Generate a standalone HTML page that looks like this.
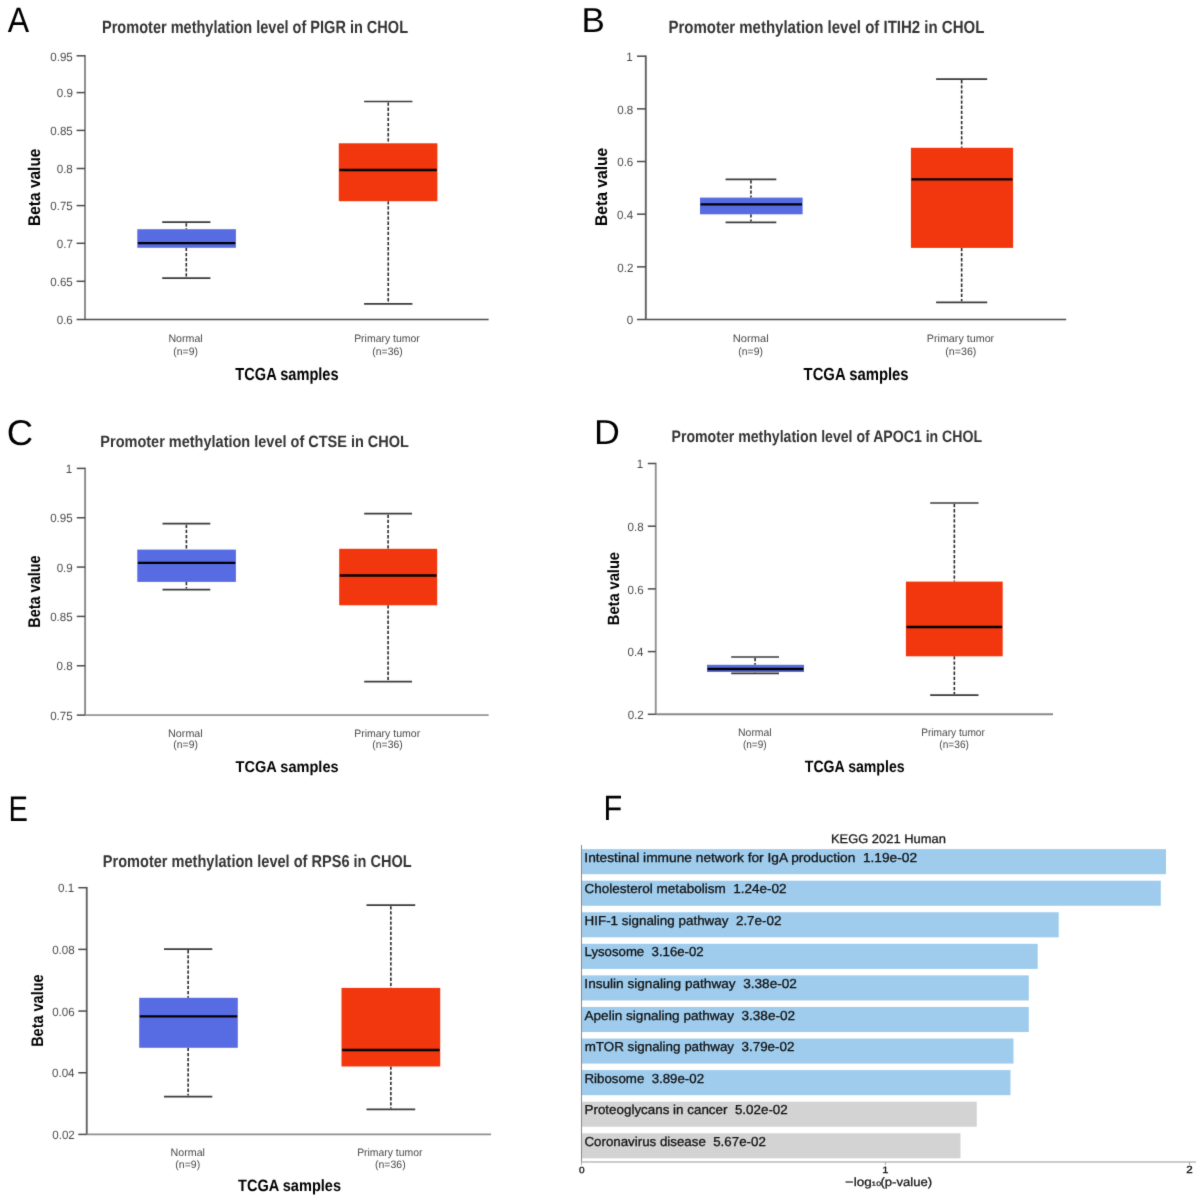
<!DOCTYPE html>
<html><head><meta charset="utf-8"><style>
html,body{margin:0;padding:0;background:#fff;width:1200px;height:1200px;overflow:hidden}
svg{display:block}
text{font-family:"Liberation Sans",sans-serif;text-rendering:geometricPrecision}
</style></head><body>
<svg width="1200" height="1200" viewBox="0 0 1200 1200">
<defs><filter id="soft" x="0" y="0" width="1200" height="1200" filterUnits="userSpaceOnUse" color-interpolation-filters="sRGB"><feConvolveMatrix order="3" kernelMatrix="0.0114 0.0841 0.0114 0.0841 0.6178 0.0841 0.0114 0.0841 0.0114" edgeMode="duplicate"/></filter></defs>
<g filter="url(#soft)">
<rect width="1200" height="1200" fill="#fff"/>
<text x="7.64" y="32.00" font-size="35.32" fill="#000" textLength="21.43" lengthAdjust="spacingAndGlyphs">A</text>
<text x="102.03" y="33.00" font-size="17.73" font-weight="bold" fill="#333" textLength="306.02" lengthAdjust="spacingAndGlyphs">Promoter methylation level of PIGR in CHOL</text>
<line x1="85" y1="55.0" x2="85" y2="319.5" stroke="#888" stroke-width="1.9"/>
<line x1="85" y1="319.5" x2="488.6" y2="319.5" stroke="#4b4b4b" stroke-width="1.3"/>
<line x1="76.6" y1="55.80" x2="85" y2="55.80" stroke="#4a4a4a" stroke-width="1.5"/>
<text x="50.25" y="60.53" font-size="12.00" fill="#4a4a4a" textLength="22.54" lengthAdjust="spacingAndGlyphs">0.95</text>
<line x1="76.6" y1="92.60" x2="85" y2="92.60" stroke="#4a4a4a" stroke-width="1.5"/>
<text x="56.75" y="97.33" font-size="12.00" fill="#4a4a4a" textLength="16.10" lengthAdjust="spacingAndGlyphs">0.9</text>
<line x1="76.6" y1="130.40" x2="85" y2="130.40" stroke="#4a4a4a" stroke-width="1.5"/>
<text x="50.25" y="135.13" font-size="12.00" fill="#4a4a4a" textLength="22.54" lengthAdjust="spacingAndGlyphs">0.85</text>
<line x1="76.6" y1="168.50" x2="85" y2="168.50" stroke="#4a4a4a" stroke-width="1.5"/>
<text x="56.70" y="173.23" font-size="12.00" fill="#4a4a4a" textLength="16.10" lengthAdjust="spacingAndGlyphs">0.8</text>
<line x1="76.6" y1="205.60" x2="85" y2="205.60" stroke="#4a4a4a" stroke-width="1.5"/>
<text x="50.25" y="210.33" font-size="12.00" fill="#4a4a4a" textLength="22.54" lengthAdjust="spacingAndGlyphs">0.75</text>
<line x1="76.6" y1="243.30" x2="85" y2="243.30" stroke="#4a4a4a" stroke-width="1.5"/>
<text x="56.78" y="248.03" font-size="12.00" fill="#4a4a4a" textLength="16.10" lengthAdjust="spacingAndGlyphs">0.7</text>
<line x1="76.6" y1="281.30" x2="85" y2="281.30" stroke="#4a4a4a" stroke-width="1.5"/>
<text x="50.25" y="286.03" font-size="12.00" fill="#4a4a4a" textLength="22.54" lengthAdjust="spacingAndGlyphs">0.65</text>
<line x1="76.6" y1="319.50" x2="85" y2="319.50" stroke="#4a4a4a" stroke-width="1.5"/>
<text x="56.71" y="324.23" font-size="12.00" fill="#4a4a4a" textLength="16.10" lengthAdjust="spacingAndGlyphs">0.6</text>
<g transform="translate(40.25,224.90) rotate(-90)">
<text x="-1.04" y="0.00" font-size="16.93" font-weight="bold" fill="#000" textLength="77.37" lengthAdjust="spacingAndGlyphs">Beta value</text>
</g>
<line x1="186.30" y1="223.20" x2="186.30" y2="229.20" stroke="#2a2a2a" stroke-width="1.6" stroke-dasharray="3.3,1.8"/>
<line x1="186.30" y1="247.80" x2="186.30" y2="277.20" stroke="#2a2a2a" stroke-width="1.6" stroke-dasharray="3.3,1.8"/>
<line x1="162.20" y1="222.20" x2="210.40" y2="222.20" stroke="#3a3a3a" stroke-width="1.7"/>
<line x1="162.20" y1="278.20" x2="210.40" y2="278.20" stroke="#3a3a3a" stroke-width="1.7"/>
<rect x="137.30" y="229.20" width="98.60" height="18.60" fill="#576be2"/>
<line x1="137.90" y1="243.20" x2="235.30" y2="243.20" stroke="#000" stroke-width="2.3"/>
<line x1="388.25" y1="102.50" x2="388.25" y2="143.30" stroke="#2a2a2a" stroke-width="1.6" stroke-dasharray="3.3,1.8"/>
<line x1="388.25" y1="201.20" x2="388.25" y2="302.80" stroke="#2a2a2a" stroke-width="1.6" stroke-dasharray="3.3,1.8"/>
<line x1="364.10" y1="101.50" x2="412.40" y2="101.50" stroke="#3a3a3a" stroke-width="1.7"/>
<line x1="364.10" y1="303.80" x2="412.40" y2="303.80" stroke="#3a3a3a" stroke-width="1.7"/>
<rect x="338.80" y="143.30" width="98.60" height="57.90" fill="#f2360d"/>
<line x1="339.40" y1="170.00" x2="436.80" y2="170.00" stroke="#000" stroke-width="2.3"/>
<text x="168.38" y="341.70" font-size="10.80" fill="#484848" textLength="34.33" lengthAdjust="spacingAndGlyphs">Normal</text>
<text x="173.36" y="354.70" font-size="10.80" fill="#484848" textLength="24.54" lengthAdjust="spacingAndGlyphs">(n=9)</text>
<text x="354.14" y="341.70" font-size="10.80" fill="#484848" textLength="65.74" lengthAdjust="spacingAndGlyphs">Primary tumor</text>
<text x="372.36" y="354.70" font-size="10.80" fill="#484848" textLength="30.29" lengthAdjust="spacingAndGlyphs">(n=36)</text>
<text x="235.34" y="380.00" font-size="17.44" font-weight="bold" fill="#000" textLength="103.26" lengthAdjust="spacingAndGlyphs">TCGA samples</text>
<text x="581.53" y="31.90" font-size="34.59" fill="#000" textLength="23.32" lengthAdjust="spacingAndGlyphs">B</text>
<text x="668.39" y="33.00" font-size="17.73" font-weight="bold" fill="#333" textLength="315.97" lengthAdjust="spacingAndGlyphs">Promoter methylation level of ITIH2 in CHOL</text>
<line x1="645.8" y1="55.400000000000006" x2="645.8" y2="319.5" stroke="#606060" stroke-width="1.9"/>
<line x1="645.8" y1="319.5" x2="1066.2" y2="319.5" stroke="#4b4b4b" stroke-width="1.3"/>
<line x1="637.0" y1="56.20" x2="645.8" y2="56.20" stroke="#4a4a4a" stroke-width="1.5"/>
<text x="626.33" y="60.93" font-size="12.00" fill="#4a4a4a" textLength="6.44" lengthAdjust="spacingAndGlyphs">1</text>
<line x1="637.0" y1="108.86" x2="645.8" y2="108.86" stroke="#4a4a4a" stroke-width="1.5"/>
<text x="617.20" y="113.59" font-size="12.00" fill="#4a4a4a" textLength="16.10" lengthAdjust="spacingAndGlyphs">0.8</text>
<line x1="637.0" y1="161.52" x2="645.8" y2="161.52" stroke="#4a4a4a" stroke-width="1.5"/>
<text x="617.21" y="166.25" font-size="12.00" fill="#4a4a4a" textLength="16.10" lengthAdjust="spacingAndGlyphs">0.6</text>
<line x1="637.0" y1="214.18" x2="645.8" y2="214.18" stroke="#4a4a4a" stroke-width="1.5"/>
<text x="617.04" y="218.91" font-size="12.00" fill="#4a4a4a" textLength="16.10" lengthAdjust="spacingAndGlyphs">0.4</text>
<line x1="637.0" y1="266.84" x2="645.8" y2="266.84" stroke="#4a4a4a" stroke-width="1.5"/>
<text x="617.28" y="271.57" font-size="12.00" fill="#4a4a4a" textLength="16.10" lengthAdjust="spacingAndGlyphs">0.2</text>
<line x1="637.0" y1="319.50" x2="645.8" y2="319.50" stroke="#4a4a4a" stroke-width="1.5"/>
<text x="626.81" y="324.23" font-size="12.00" fill="#4a4a4a" textLength="6.44" lengthAdjust="spacingAndGlyphs">0</text>
<g transform="translate(606.70,225.00) rotate(-90)">
<text x="-1.05" y="0.00" font-size="17.01" font-weight="bold" fill="#000" textLength="78.29" lengthAdjust="spacingAndGlyphs">Beta value</text>
</g>
<line x1="750.95" y1="180.30" x2="750.95" y2="197.60" stroke="#2a2a2a" stroke-width="1.6" stroke-dasharray="3.3,1.8"/>
<line x1="750.95" y1="214.30" x2="750.95" y2="221.40" stroke="#2a2a2a" stroke-width="1.6" stroke-dasharray="3.3,1.8"/>
<line x1="725.60" y1="179.30" x2="776.30" y2="179.30" stroke="#3a3a3a" stroke-width="1.7"/>
<line x1="725.60" y1="222.40" x2="776.30" y2="222.40" stroke="#3a3a3a" stroke-width="1.7"/>
<rect x="700.00" y="197.60" width="102.60" height="16.70" fill="#576be2"/>
<line x1="700.60" y1="204.30" x2="802.00" y2="204.30" stroke="#000" stroke-width="2.3"/>
<line x1="961.65" y1="80.10" x2="961.65" y2="147.80" stroke="#2a2a2a" stroke-width="1.6" stroke-dasharray="3.3,1.8"/>
<line x1="961.65" y1="247.90" x2="961.65" y2="301.30" stroke="#2a2a2a" stroke-width="1.6" stroke-dasharray="3.3,1.8"/>
<line x1="936.10" y1="79.10" x2="987.20" y2="79.10" stroke="#3a3a3a" stroke-width="1.7"/>
<line x1="936.10" y1="302.30" x2="987.20" y2="302.30" stroke="#3a3a3a" stroke-width="1.7"/>
<rect x="910.90" y="147.80" width="102.20" height="100.10" fill="#f2360d"/>
<line x1="911.50" y1="179.30" x2="1012.50" y2="179.30" stroke="#000" stroke-width="2.3"/>
<text x="732.84" y="341.75" font-size="10.80" fill="#484848" textLength="35.91" lengthAdjust="spacingAndGlyphs">Normal</text>
<text x="738.36" y="354.60" font-size="10.80" fill="#484848" textLength="24.54" lengthAdjust="spacingAndGlyphs">(n=9)</text>
<text x="926.82" y="341.75" font-size="10.80" fill="#484848" textLength="67.37" lengthAdjust="spacingAndGlyphs">Primary tumor</text>
<text x="945.34" y="354.60" font-size="10.80" fill="#484848" textLength="31.02" lengthAdjust="spacingAndGlyphs">(n=36)</text>
<text x="803.59" y="380.00" font-size="17.44" font-weight="bold" fill="#000" textLength="105.02" lengthAdjust="spacingAndGlyphs">TCGA samples</text>
<text x="6.88" y="445.30" font-size="35.90" fill="#000" textLength="26.41" lengthAdjust="spacingAndGlyphs">C</text>
<text x="100.33" y="447.00" font-size="16.35" font-weight="bold" fill="#333" textLength="308.62" lengthAdjust="spacingAndGlyphs">Promoter methylation level of CTSE in CHOL</text>
<line x1="85.1" y1="467.59999999999997" x2="85.1" y2="715.1" stroke="#888" stroke-width="1.9"/>
<line x1="85.1" y1="715.1" x2="488.6" y2="715.1" stroke="#959595" stroke-width="1.9"/>
<line x1="76.8" y1="468.40" x2="85.1" y2="468.40" stroke="#4a4a4a" stroke-width="1.5"/>
<text x="65.73" y="473.13" font-size="12.00" fill="#4a4a4a" textLength="6.44" lengthAdjust="spacingAndGlyphs">1</text>
<line x1="76.8" y1="517.74" x2="85.1" y2="517.74" stroke="#4a4a4a" stroke-width="1.5"/>
<text x="50.15" y="522.47" font-size="12.00" fill="#4a4a4a" textLength="22.54" lengthAdjust="spacingAndGlyphs">0.95</text>
<line x1="76.8" y1="567.08" x2="85.1" y2="567.08" stroke="#4a4a4a" stroke-width="1.5"/>
<text x="56.65" y="571.81" font-size="12.00" fill="#4a4a4a" textLength="16.10" lengthAdjust="spacingAndGlyphs">0.9</text>
<line x1="76.8" y1="616.42" x2="85.1" y2="616.42" stroke="#4a4a4a" stroke-width="1.5"/>
<text x="50.15" y="621.15" font-size="12.00" fill="#4a4a4a" textLength="22.54" lengthAdjust="spacingAndGlyphs">0.85</text>
<line x1="76.8" y1="665.76" x2="85.1" y2="665.76" stroke="#4a4a4a" stroke-width="1.5"/>
<text x="56.60" y="670.49" font-size="12.00" fill="#4a4a4a" textLength="16.10" lengthAdjust="spacingAndGlyphs">0.8</text>
<line x1="76.8" y1="715.10" x2="85.1" y2="715.10" stroke="#4a4a4a" stroke-width="1.5"/>
<text x="50.15" y="719.83" font-size="12.00" fill="#4a4a4a" textLength="22.54" lengthAdjust="spacingAndGlyphs">0.75</text>
<g transform="translate(40.25,626.80) rotate(-90)">
<text x="-0.97" y="0.00" font-size="16.93" font-weight="bold" fill="#000" textLength="72.37" lengthAdjust="spacingAndGlyphs">Beta value</text>
</g>
<line x1="186.40" y1="524.70" x2="186.40" y2="549.60" stroke="#2a2a2a" stroke-width="1.6" stroke-dasharray="3.3,1.8"/>
<line x1="186.40" y1="581.90" x2="186.40" y2="588.60" stroke="#2a2a2a" stroke-width="1.6" stroke-dasharray="3.3,1.8"/>
<line x1="162.50" y1="523.70" x2="210.30" y2="523.70" stroke="#3a3a3a" stroke-width="1.7"/>
<line x1="162.50" y1="589.60" x2="210.30" y2="589.60" stroke="#3a3a3a" stroke-width="1.7"/>
<rect x="137.30" y="549.60" width="98.60" height="32.30" fill="#576be2"/>
<line x1="137.90" y1="562.80" x2="235.30" y2="562.80" stroke="#000" stroke-width="2.3"/>
<line x1="388.10" y1="514.70" x2="388.10" y2="548.80" stroke="#2a2a2a" stroke-width="1.6" stroke-dasharray="3.3,1.8"/>
<line x1="388.10" y1="605.30" x2="388.10" y2="680.70" stroke="#2a2a2a" stroke-width="1.6" stroke-dasharray="3.3,1.8"/>
<line x1="364.20" y1="513.70" x2="412.00" y2="513.70" stroke="#3a3a3a" stroke-width="1.7"/>
<line x1="364.20" y1="681.70" x2="412.00" y2="681.70" stroke="#3a3a3a" stroke-width="1.7"/>
<rect x="339.20" y="548.80" width="98.00" height="56.50" fill="#f2360d"/>
<line x1="339.80" y1="575.50" x2="436.60" y2="575.50" stroke="#000" stroke-width="2.3"/>
<text x="168.12" y="736.60" font-size="10.80" fill="#484848" textLength="34.60" lengthAdjust="spacingAndGlyphs">Normal</text>
<text x="173.36" y="748.40" font-size="10.80" fill="#484848" textLength="24.54" lengthAdjust="spacingAndGlyphs">(n=9)</text>
<text x="354.14" y="736.60" font-size="10.80" fill="#484848" textLength="66.05" lengthAdjust="spacingAndGlyphs">Primary tumor</text>
<text x="372.36" y="748.40" font-size="10.80" fill="#484848" textLength="30.29" lengthAdjust="spacingAndGlyphs">(n=36)</text>
<text x="235.59" y="771.75" font-size="15.63" font-weight="bold" fill="#000" textLength="103.01" lengthAdjust="spacingAndGlyphs">TCGA samples</text>
<text x="593.96" y="444.40" font-size="34.59" fill="#000" textLength="25.86" lengthAdjust="spacingAndGlyphs">D</text>
<text x="671.56" y="441.80" font-size="16.57" font-weight="bold" fill="#333" textLength="310.48" lengthAdjust="spacingAndGlyphs">Promoter methylation level of APOC1 in CHOL</text>
<line x1="655.75" y1="462.7" x2="655.75" y2="714.3" stroke="#909090" stroke-width="1.9"/>
<line x1="655.75" y1="714.3" x2="1053" y2="714.3" stroke="#888" stroke-width="1.9"/>
<line x1="647.8" y1="463.50" x2="655.75" y2="463.50" stroke="#4a4a4a" stroke-width="1.5"/>
<text x="636.73" y="468.23" font-size="12.00" fill="#4a4a4a" textLength="6.44" lengthAdjust="spacingAndGlyphs">1</text>
<line x1="647.8" y1="526.20" x2="655.75" y2="526.20" stroke="#4a4a4a" stroke-width="1.5"/>
<text x="627.60" y="530.93" font-size="12.00" fill="#4a4a4a" textLength="16.10" lengthAdjust="spacingAndGlyphs">0.8</text>
<line x1="647.8" y1="588.90" x2="655.75" y2="588.90" stroke="#4a4a4a" stroke-width="1.5"/>
<text x="627.61" y="593.63" font-size="12.00" fill="#4a4a4a" textLength="16.10" lengthAdjust="spacingAndGlyphs">0.6</text>
<line x1="647.8" y1="651.60" x2="655.75" y2="651.60" stroke="#4a4a4a" stroke-width="1.5"/>
<text x="627.44" y="656.33" font-size="12.00" fill="#4a4a4a" textLength="16.10" lengthAdjust="spacingAndGlyphs">0.4</text>
<line x1="647.8" y1="714.30" x2="655.75" y2="714.30" stroke="#4a4a4a" stroke-width="1.5"/>
<text x="627.68" y="719.03" font-size="12.00" fill="#4a4a4a" textLength="16.10" lengthAdjust="spacingAndGlyphs">0.2</text>
<g transform="translate(619.20,624.20) rotate(-90)">
<text x="-0.98" y="0.00" font-size="16.28" font-weight="bold" fill="#000" textLength="73.18" lengthAdjust="spacingAndGlyphs">Beta value</text>
</g>
<line x1="755.10" y1="658.00" x2="755.10" y2="664.80" stroke="#2a2a2a" stroke-width="1.6" stroke-dasharray="3.3,1.8"/>
<line x1="755.10" y1="672.00" x2="755.10" y2="672.30" stroke="#2a2a2a" stroke-width="1.6" stroke-dasharray="3.3,1.8"/>
<line x1="731.20" y1="657.00" x2="779.00" y2="657.00" stroke="#3a3a3a" stroke-width="1.7"/>
<line x1="731.20" y1="673.30" x2="779.00" y2="673.30" stroke="#3a3a3a" stroke-width="1.7"/>
<rect x="707.00" y="664.80" width="97.00" height="7.20" fill="#576be2"/>
<line x1="707.60" y1="669.00" x2="803.40" y2="669.00" stroke="#000" stroke-width="2.3"/>
<line x1="954.35" y1="504.00" x2="954.35" y2="581.60" stroke="#2a2a2a" stroke-width="1.6" stroke-dasharray="3.3,1.8"/>
<line x1="954.35" y1="656.30" x2="954.35" y2="694.10" stroke="#2a2a2a" stroke-width="1.6" stroke-dasharray="3.3,1.8"/>
<line x1="930.20" y1="503.00" x2="978.50" y2="503.00" stroke="#3a3a3a" stroke-width="1.7"/>
<line x1="930.20" y1="695.10" x2="978.50" y2="695.10" stroke="#3a3a3a" stroke-width="1.7"/>
<rect x="905.90" y="581.60" width="96.80" height="74.70" fill="#f2360d"/>
<line x1="906.50" y1="627.00" x2="1002.10" y2="627.00" stroke="#000" stroke-width="2.3"/>
<text x="738.04" y="735.75" font-size="10.80" fill="#484848" textLength="33.65" lengthAdjust="spacingAndGlyphs">Normal</text>
<text x="742.88" y="747.50" font-size="10.80" fill="#484848" textLength="23.75" lengthAdjust="spacingAndGlyphs">(n=9)</text>
<text x="921.17" y="735.75" font-size="10.80" fill="#484848" textLength="63.71" lengthAdjust="spacingAndGlyphs">Primary tumor</text>
<text x="939.37" y="747.50" font-size="10.80" fill="#484848" textLength="29.56" lengthAdjust="spacingAndGlyphs">(n=36)</text>
<text x="804.84" y="771.50" font-size="16.35" font-weight="bold" fill="#000" textLength="99.74" lengthAdjust="spacingAndGlyphs">TCGA samples</text>
<text x="8.61" y="820.70" font-size="35.61" fill="#000" textLength="19.44" lengthAdjust="spacingAndGlyphs">E</text>
<text x="102.82" y="866.60" font-size="17.15" font-weight="bold" fill="#333" textLength="308.93" lengthAdjust="spacingAndGlyphs">Promoter methylation level of RPS6 in CHOL</text>
<line x1="86.75" y1="886.9000000000001" x2="86.75" y2="1134.4" stroke="#626262" stroke-width="1.9"/>
<line x1="86.75" y1="1134.4" x2="491" y2="1134.4" stroke="#8e8e8e" stroke-width="1.9"/>
<line x1="78.3" y1="887.70" x2="86.75" y2="887.70" stroke="#4a4a4a" stroke-width="1.5"/>
<text x="58.07" y="892.43" font-size="12.00" fill="#4a4a4a" textLength="16.10" lengthAdjust="spacingAndGlyphs">0.1</text>
<line x1="78.3" y1="949.38" x2="86.75" y2="949.38" stroke="#4a4a4a" stroke-width="1.5"/>
<text x="52.16" y="954.10" font-size="12.00" fill="#4a4a4a" textLength="22.54" lengthAdjust="spacingAndGlyphs">0.08</text>
<line x1="78.3" y1="1011.05" x2="86.75" y2="1011.05" stroke="#4a4a4a" stroke-width="1.5"/>
<text x="52.17" y="1015.78" font-size="12.00" fill="#4a4a4a" textLength="22.54" lengthAdjust="spacingAndGlyphs">0.06</text>
<line x1="78.3" y1="1072.73" x2="86.75" y2="1072.73" stroke="#4a4a4a" stroke-width="1.5"/>
<text x="52.00" y="1077.45" font-size="12.00" fill="#4a4a4a" textLength="22.54" lengthAdjust="spacingAndGlyphs">0.04</text>
<line x1="78.3" y1="1134.40" x2="86.75" y2="1134.40" stroke="#4a4a4a" stroke-width="1.5"/>
<text x="52.24" y="1139.13" font-size="12.00" fill="#4a4a4a" textLength="22.54" lengthAdjust="spacingAndGlyphs">0.02</text>
<g transform="translate(42.90,1045.90) rotate(-90)">
<text x="-0.97" y="0.00" font-size="16.72" font-weight="bold" fill="#000" textLength="72.47" lengthAdjust="spacingAndGlyphs">Beta value</text>
</g>
<line x1="188.15" y1="950.10" x2="188.15" y2="997.80" stroke="#2a2a2a" stroke-width="1.6" stroke-dasharray="3.3,1.8"/>
<line x1="188.15" y1="1047.80" x2="188.15" y2="1095.60" stroke="#2a2a2a" stroke-width="1.6" stroke-dasharray="3.3,1.8"/>
<line x1="164.00" y1="949.10" x2="212.30" y2="949.10" stroke="#3a3a3a" stroke-width="1.7"/>
<line x1="164.00" y1="1096.60" x2="212.30" y2="1096.60" stroke="#3a3a3a" stroke-width="1.7"/>
<rect x="139.20" y="997.80" width="98.60" height="50.00" fill="#576be2"/>
<line x1="139.80" y1="1016.30" x2="237.20" y2="1016.30" stroke="#000" stroke-width="2.3"/>
<line x1="390.85" y1="906.20" x2="390.85" y2="987.90" stroke="#2a2a2a" stroke-width="1.6" stroke-dasharray="3.3,1.8"/>
<line x1="390.85" y1="1066.50" x2="390.85" y2="1108.40" stroke="#2a2a2a" stroke-width="1.6" stroke-dasharray="3.3,1.8"/>
<line x1="366.50" y1="905.20" x2="415.20" y2="905.20" stroke="#3a3a3a" stroke-width="1.7"/>
<line x1="366.50" y1="1109.40" x2="415.20" y2="1109.40" stroke="#3a3a3a" stroke-width="1.7"/>
<rect x="341.50" y="987.90" width="98.70" height="78.60" fill="#f2360d"/>
<line x1="342.10" y1="1050.00" x2="439.60" y2="1050.00" stroke="#000" stroke-width="2.3"/>
<text x="170.52" y="1155.75" font-size="10.80" fill="#484848" textLength="34.44" lengthAdjust="spacingAndGlyphs">Normal</text>
<text x="175.35" y="1167.50" font-size="10.80" fill="#484848" textLength="24.81" lengthAdjust="spacingAndGlyphs">(n=9)</text>
<text x="357.15" y="1155.75" font-size="10.80" fill="#484848" textLength="65.33" lengthAdjust="spacingAndGlyphs">Primary tumor</text>
<text x="375.05" y="1167.50" font-size="10.80" fill="#484848" textLength="30.61" lengthAdjust="spacingAndGlyphs">(n=36)</text>
<text x="238.09" y="1190.75" font-size="16.35" font-weight="bold" fill="#000" textLength="102.91" lengthAdjust="spacingAndGlyphs">TCGA samples</text>
<text x="603.48" y="819.80" font-size="35.32" fill="#000" textLength="18.74" lengthAdjust="spacingAndGlyphs">F</text>
<text x="830.94" y="842.60" font-size="12.50" fill="#111" textLength="114.91" lengthAdjust="spacingAndGlyphs" stroke="#111" stroke-width="0.25">KEGG 2021 Human</text>
<rect x="582.00" y="849.10" width="584.00" height="25.1" fill="#9fcced"/>
<rect x="582.00" y="880.67" width="578.80" height="25.1" fill="#9fcced"/>
<rect x="582.00" y="912.24" width="476.70" height="25.1" fill="#9fcced"/>
<rect x="582.00" y="943.81" width="455.70" height="25.1" fill="#9fcced"/>
<rect x="582.00" y="975.38" width="446.80" height="25.1" fill="#9fcced"/>
<rect x="582.00" y="1006.95" width="446.80" height="25.1" fill="#9fcced"/>
<rect x="582.00" y="1038.52" width="431.50" height="25.1" fill="#9fcced"/>
<rect x="582.00" y="1070.09" width="428.50" height="25.1" fill="#9fcced"/>
<rect x="582.00" y="1101.66" width="394.75" height="25.1" fill="#d3d3d3"/>
<rect x="582.00" y="1133.23" width="378.50" height="25.1" fill="#d3d3d3"/>
<text x="584.36" y="861.75" font-size="13.00" fill="#111" textLength="332.75" lengthAdjust="spacingAndGlyphs" xml:space="preserve" stroke="#111" stroke-width="0.3">Intestinal immune network for IgA production  1.19e-02</text>
<text x="584.43" y="893.32" font-size="13.00" fill="#111" textLength="202.22" lengthAdjust="spacingAndGlyphs" xml:space="preserve" stroke="#111" stroke-width="0.3">Cholesterol metabolism  1.24e-02</text>
<text x="584.52" y="924.89" font-size="13.00" fill="#111" textLength="196.94" lengthAdjust="spacingAndGlyphs" xml:space="preserve" stroke="#111" stroke-width="0.3">HIF-1 signaling pathway  2.7e-02</text>
<text x="584.54" y="956.46" font-size="13.00" fill="#111" textLength="119.15" lengthAdjust="spacingAndGlyphs" xml:space="preserve" stroke="#111" stroke-width="0.3">Lysosome  3.16e-02</text>
<text x="584.37" y="988.03" font-size="13.00" fill="#111" textLength="212.51" lengthAdjust="spacingAndGlyphs" xml:space="preserve" stroke="#111" stroke-width="0.3">Insulin signaling pathway  3.38e-02</text>
<text x="584.52" y="1019.60" font-size="13.00" fill="#111" textLength="210.57" lengthAdjust="spacingAndGlyphs" xml:space="preserve" stroke="#111" stroke-width="0.3">Apelin signaling pathway  3.38e-02</text>
<text x="584.65" y="1051.17" font-size="13.00" fill="#111" textLength="209.76" lengthAdjust="spacingAndGlyphs" xml:space="preserve" stroke="#111" stroke-width="0.3">mTOR signaling pathway  3.79e-02</text>
<text x="584.53" y="1082.74" font-size="13.00" fill="#111" textLength="119.51" lengthAdjust="spacingAndGlyphs" xml:space="preserve" stroke="#111" stroke-width="0.3">Ribosome  3.89e-02</text>
<text x="584.52" y="1114.31" font-size="13.00" fill="#111" textLength="203.24" lengthAdjust="spacingAndGlyphs" xml:space="preserve" stroke="#111" stroke-width="0.3">Proteoglycans in cancer  5.02e-02</text>
<text x="584.44" y="1145.88" font-size="13.00" fill="#111" textLength="181.36" lengthAdjust="spacingAndGlyphs" xml:space="preserve" stroke="#111" stroke-width="0.3">Coronavirus disease  5.67e-02</text>
<line x1="581.5" y1="845" x2="581.5" y2="1162" stroke="#888" stroke-width="1"/>
<line x1="581.5" y1="1162" x2="1196" y2="1162" stroke="#bbb" stroke-width="1.5"/>
<line x1="581.50" y1="1162" x2="581.50" y2="1165" stroke="#999" stroke-width="0.8"/>
<text x="579.01" y="1172.70" font-size="8.86" fill="#111" textLength="5.58" lengthAdjust="spacingAndGlyphs" stroke="#111" stroke-width="0.3">0</text>
<line x1="885.50" y1="1162" x2="885.50" y2="1165" stroke="#999" stroke-width="0.8"/>
<text x="882.35" y="1172.80" font-size="9.14" fill="#111" textLength="6.19" lengthAdjust="spacingAndGlyphs" stroke="#111" stroke-width="0.3">1</text>
<line x1="1189.50" y1="1162" x2="1189.50" y2="1165" stroke="#999" stroke-width="0.8"/>
<text x="1186.32" y="1172.80" font-size="10.29" fill="#111" textLength="6.46" lengthAdjust="spacingAndGlyphs" stroke="#111" stroke-width="0.3">2</text>
<text x="845.08" y="1185.75" font-size="12.00" fill="#111" textLength="8.53" lengthAdjust="spacingAndGlyphs" stroke="#111" stroke-width="0.25">−</text>
<text x="853.70" y="1185.75" font-size="12.00" fill="#111" textLength="17.97" lengthAdjust="spacingAndGlyphs" stroke="#111" stroke-width="0.25">log</text>
<text x="871.33" y="1185.75" font-size="6.40" fill="#111" textLength="9.82" lengthAdjust="spacingAndGlyphs" stroke="#111" stroke-width="0.2">10</text>
<text x="880.44" y="1185.75" font-size="12.00" fill="#111" textLength="51.62" lengthAdjust="spacingAndGlyphs" stroke="#111" stroke-width="0.25">(p-value)</text>
</g>
</svg>
</body></html>
